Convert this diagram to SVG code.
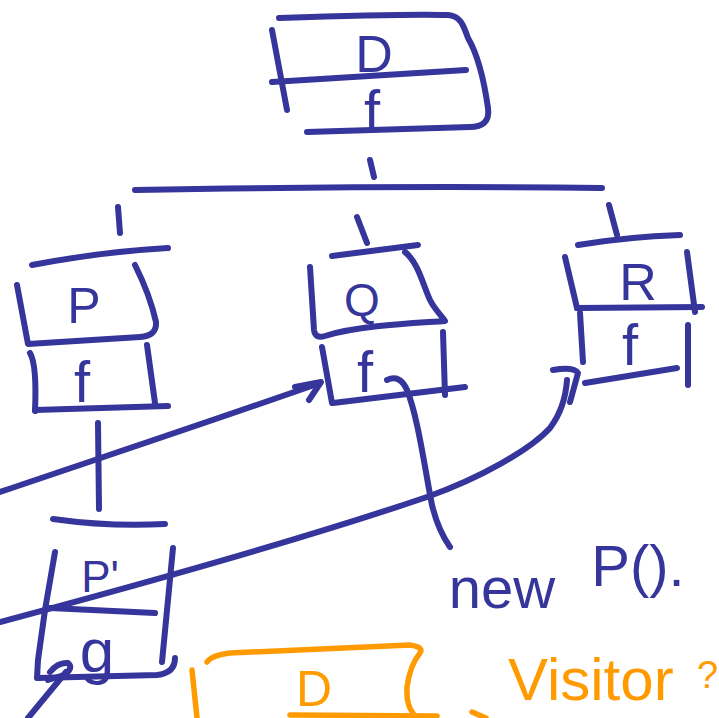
<svg xmlns="http://www.w3.org/2000/svg" width="719" height="718" viewBox="0 0 719 718">
  <style>
    .ink { fill: none; stroke: #35359b; stroke-width: 6; stroke-linecap: round; stroke-linejoin: round; }
    .amber { fill: none; stroke: #ff9b00; stroke-width: 5.5; stroke-linecap: round; stroke-linejoin: round; }
    .lbl { font-family: "Liberation Sans", Arial, sans-serif; fill: #35359b; text-anchor: middle; }
    .lbl-amber { font-family: "Liberation Sans", Arial, sans-serif; fill: #ff9b00; }
  </style>
  <rect width="719" height="718" fill="#ffffff"/>

  <!-- root class D with method f -->
  <g id="node-D">
    <path class="ink" d="M279,18 C340,16 410,14 448,15 C462,16 464,28 468,38 C478,55 484,80 488,108 C490,122 482,127 470,127 L307,132"/>
    <path class="ink" d="M272,30 L287,110"/>
    <path class="ink" d="M272,82 L466,70"/>
    <text class="lbl" x="374" y="72" font-size="52">D</text>
    <text class="lbl" x="372" y="131" font-size="58">f</text>
  </g>

  <!-- subclass P -->
  <g id="node-P">
    <path class="ink" d="M32,265 C80,256 130,250 168,248"/>
    <path class="ink" d="M17,285 L28,344 L140,337 Q157,336 156,322 Q150,295 135,265"/>
    <path class="ink" d="M30,353 Q37,365 35,411"/>
    <path class="ink" d="M147,345 L155,403"/>
    <path class="ink" d="M35,410 L168,406"/>
    <text class="lbl" x="84" y="323" font-size="50">P</text>
    <text class="lbl" x="82" y="402" font-size="58">f</text>
  </g>

  <!-- subclass Q -->
  <g id="node-Q">
    <path class="ink" d="M332,256 L418,245"/>
    <path class="ink" d="M405,252 C418,262 423,285 430,300 C435,310 442,316 445,321 C420,323 360,325 325,336 Q315,339 314,330 L310,267"/>
    <path class="ink" d="M322,347 L332,403"/>
    <path class="ink" d="M443,332 L445,395"/>
    <path class="ink" d="M333,403 L465,387"/>
    <text class="lbl" x="362" y="316" font-size="46">Q</text>
    <text class="lbl" x="365" y="392" font-size="58">f</text>
  </g>

  <!-- subclass R -->
  <g id="node-R">
    <path class="ink" d="M578,245 C620,238 650,236 680,235"/>
    <path class="ink" d="M565,257 L577,308"/>
    <path class="ink" d="M687,252 L695,312"/>
    <path class="ink" d="M577,308 L702,307"/>
    <path class="ink" d="M580,313 L583,362"/>
    <path class="ink" d="M688,325 L688,385"/>
    <path class="ink" d="M585,383 L677,368"/>
    <text class="lbl" x="638" y="300" font-size="52">R</text>
    <text class="lbl" x="630" y="365" font-size="58">f</text>
  </g>

  <!-- subclass P' with method g -->
  <g id="node-Pprime">
    <path class="ink" d="M53,519 Q110,527 165,524"/>
    <path class="ink" d="M55,552 L45,610 L38,660 L37,678 L157,675 Q175,673 175,658"/>
    <path class="ink" d="M173,548 L162,662"/>
    <path class="ink" d="M50,608 L155,613"/>
    <text class="lbl" x="100" y="592" font-size="44">P'</text>
    <text class="lbl" x="97" y="672" font-size="62">g</text>
  </g>

  <!-- visitor sketch in amber -->
  <g id="node-visitor">
    <path class="amber" d="M207,662 Q212,655 230,653 C300,650 380,646 410,645 Q424,647 420,653 Q410,665 407,687 Q406,705 413,713"/>
    <path class="amber" d="M192,670 L197,718"/>
    <path class="amber" d="M290,715 L437,716"/>
    <path class="amber" d="M472,712 L486,718"/>
    <text class="lbl-amber" x="314" y="706" font-size="50" text-anchor="middle">D</text>
    <text class="lbl-amber" x="508" y="700" font-size="60">Visitor</text>
    <text class="lbl-amber" x="697" y="688" font-size="38">?</text>
  </g>

  <!-- call note -->
  <g id="note-new">
    <text class="lbl" x="502" y="608" font-size="58">new</text>
    <text class="lbl" x="638" y="586" font-size="58">P().</text>
  </g>

  <!-- connectors -->
  <g id="connectors">
    <!-- inheritance bus -->
    <path class="ink" d="M370,160 L374,177"/>
    <path class="ink" d="M135,190 C250,188 450,186 602,188"/>
    <path class="ink" d="M118,207 L120,233"/>
    <path class="ink" d="M357,217 L367,243"/>
    <path class="ink" d="M609,205 L617,235"/>
    <path class="ink" d="M98,423 L99,509"/>
    <!-- dispatch into Q.f -->
    <path class="ink" d="M0,492 C100,458 200,425 320,383"/>
    <path class="ink" d="M295,387 L321,382 L309,400"/>
    <!-- dispatch into R.f -->
    <path class="ink" d="M0,622 C120,590 300,540 427,497 C480,478 530,450 550,428 C562,412 566,395 567,380"/>
    <path class="ink" d="M553,370 C565,368 575,368 578,373 L570,402"/>
    <!-- Q.f to the call note -->
    <path class="ink" d="M387,380 Q400,374 407,390 C418,417 425,470 432,505 Q438,530 450,547"/>
    <!-- arrow into g -->
    <path class="ink" d="M28,718 L66,672"/>
    <path class="ink" d="M50,672 Q58,662 68,663 Q74,668 64,675 L48,680"/>
  </g>
</svg>
